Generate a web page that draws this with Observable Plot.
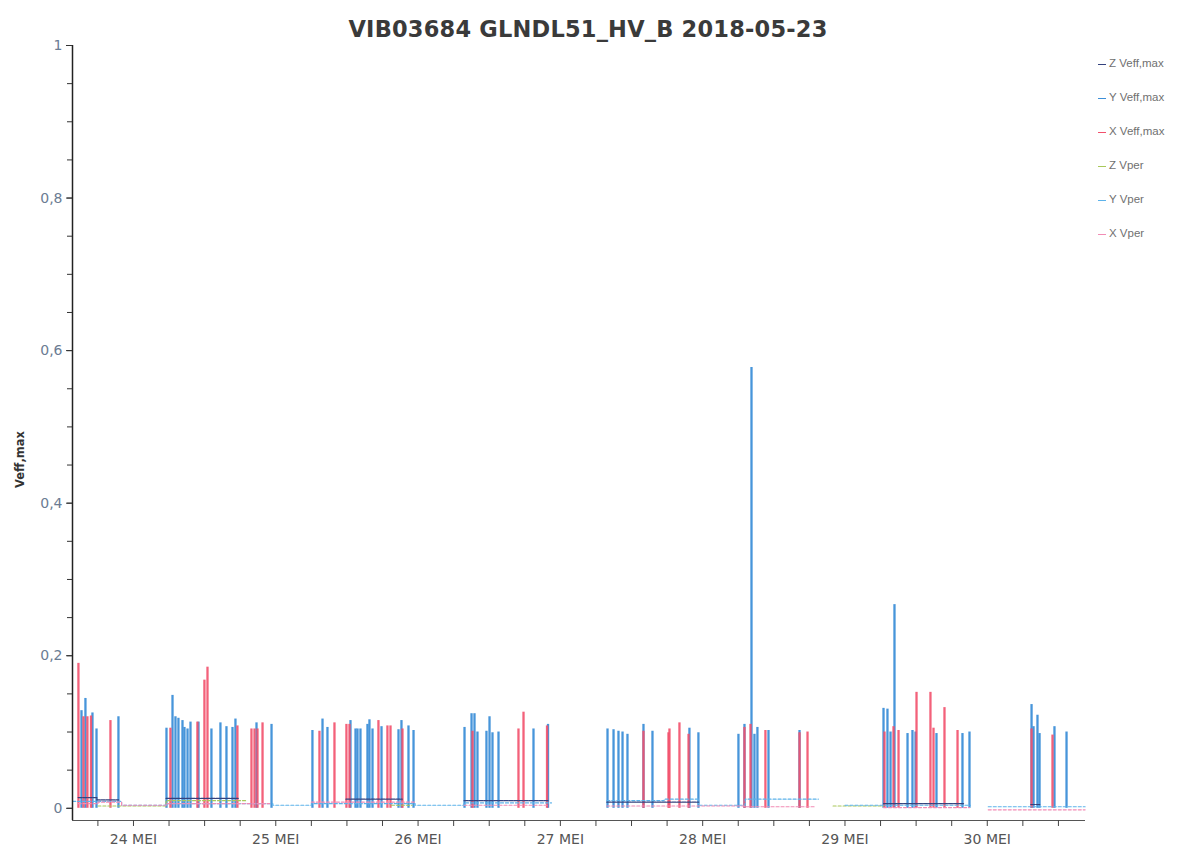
<!DOCTYPE html>
<html>
<head>
<meta charset="utf-8">
<script src="https://cdn.jsdelivr.net/npm/d3@7"></script>
<script src="https://cdn.jsdelivr.net/npm/@observablehq/plot@0.6"></script>
<style>
  html, body { margin: 0; padding: 0; background: #fff; }
  body { width: 1184px; height: 852px; position: relative; overflow: hidden; font-family: "DejaVu Sans", Verdana, sans-serif; }
  #title { position: absolute; z-index: 2; left: 0; top: 16px; width: 1176px; text-align: center; font-size: 22.5px; font-weight: bold; color: #3a3a3a; letter-spacing: 0.2px; }
  #chart { position: absolute; z-index: 1; left: 0; top: 38px; }
  #legend { position: absolute; z-index: 2; left: 1098px; top: 57px; font-size: 11.5px; color: #707070; font-family: "Liberation Sans", Arial, sans-serif; }
  #legend .item { height: 34px; display: flex; align-items: flex-start; }
  #legend .sw { width: 8px; height: 0; border-top: 1.5px solid; margin: 7px 3px 0 0; }
</style>
</head>
<body>
<div id="title"></div>
<div id="chart"></div>
<div id="legend"></div>
<script>
// ---------------- data ----------------
const chartTitle = "VIB03684 GLNDL51_HV_B 2018-05-23";
const yLabel = "Veff,max";
const seriesNames = ["Z Veff,max", "Y Veff,max", "X Veff,max", "Z Vper", "Y Vper", "X Vper"];
const seriesColors = ["#34427e", "#3d8fd8", "#f2506c", "#a9c85a", "#5cb2ea", "#f28cb5"];

const xDomain = ["2018-05-23 13:43", "2018-05-30 16:34"];
const dayTicks = ["2018-05-24 00:00", "2018-05-25 00:00", "2018-05-26 00:00", "2018-05-27 00:00", "2018-05-28 00:00", "2018-05-29 00:00", "2018-05-30 00:00"];
const dayLabels = ["24 MEI", "25 MEI", "26 MEI", "27 MEI", "28 MEI", "29 MEI", "30 MEI"];
const yDomain = [-0.016, 1];
const yTickValues = [0, 0.2, 0.4, 0.6, 0.8, 1];
const yTickLabels = ["0", "0,2", "0,4", "0,6", "0,8", "1"];

// Y Veff,max spikes (blue)
const yVeffTimes = [
  "2018-05-23 15:14", "2018-05-23 15:54", "2018-05-23 17:05", "2018-05-23 17:46", "2018-05-23 21:28",
  "2018-05-24 05:34", "2018-05-24 06:35", "2018-05-24 07:05", "2018-05-24 07:35", "2018-05-24 08:16", "2018-05-24 08:36",
  "2018-05-24 09:07", "2018-05-24 09:37", "2018-05-24 10:58", "2018-05-24 13:09", "2018-05-24 14:40", "2018-05-24 15:41",
  "2018-05-24 16:42", "2018-05-24 17:12", "2018-05-24 20:45", "2018-05-24 23:17",
  "2018-05-25 06:11", "2018-05-25 07:53", "2018-05-25 08:43", "2018-05-25 12:36", "2018-05-25 13:27", "2018-05-25 13:47",
  "2018-05-25 14:17", "2018-05-25 15:28", "2018-05-25 15:48", "2018-05-25 16:19", "2018-05-25 17:50", "2018-05-25 20:42",
  "2018-05-25 21:12", "2018-05-25 22:23", "2018-05-25 23:14",
  "2018-05-26 07:50", "2018-05-26 09:01", "2018-05-26 09:31", "2018-05-26 10:01", "2018-05-26 11:32", "2018-05-26 12:03",
  "2018-05-26 12:33", "2018-05-26 13:34", "2018-05-26 19:28", "2018-05-26 21:55",
  "2018-05-27 07:57", "2018-05-27 08:58", "2018-05-27 09:48", "2018-05-27 10:29", "2018-05-27 11:19", "2018-05-27 14:01",
  "2018-05-27 15:32", "2018-05-27 21:46", "2018-05-27 23:17",
  "2018-05-28 06:02", "2018-05-28 07:03", "2018-05-28 08:14", "2018-05-28 08:44", "2018-05-28 09:14", "2018-05-28 11:06",
  "2018-05-28 16:20",
  "2018-05-29 06:30", "2018-05-29 07:10", "2018-05-29 07:41", "2018-05-29 08:21", "2018-05-29 10:33", "2018-05-29 11:23",
  "2018-05-29 11:54", "2018-05-29 15:26", "2018-05-29 19:49", "2018-05-29 21:00",
  "2018-05-30 07:28", "2018-05-30 07:48", "2018-05-30 08:28", "2018-05-30 08:49", "2018-05-30 11:20", "2018-05-30 13:22"
];
const yVeffValues = [
  0.128, 0.144, 0.125, 0.104, 0.120,
  0.105, 0.148, 0.120, 0.118, 0.115, 0.106,
  0.104, 0.113, 0.113, 0.104, 0.112, 0.107,
  0.106, 0.117, 0.112, 0.110,
  0.102, 0.117, 0.106, 0.115, 0.104, 0.104,
  0.104, 0.110, 0.116, 0.104, 0.107, 0.103,
  0.115, 0.108, 0.102,
  0.106, 0.124, 0.124, 0.100, 0.101, 0.120,
  0.099, 0.100, 0.104, 0.110,
  0.104, 0.103, 0.101, 0.100, 0.097, 0.110,
  0.101, 0.105, 0.099,
  0.097, 0.110, 0.578, 0.097, 0.106, 0.102,
  0.102,
  0.131, 0.130, 0.100, 0.267, 0.098, 0.102,
  0.100, 0.098, 0.098, 0.100,
  0.136, 0.107, 0.122, 0.098, 0.107, 0.100
];

// X Veff,max spikes (red)
const xVeffTimes = [
  "2018-05-23 14:43", "2018-05-23 15:34", "2018-05-23 16:14", "2018-05-23 16:50", "2018-05-23 20:07",
  "2018-05-24 06:14", "2018-05-24 10:47", "2018-05-24 11:58", "2018-05-24 12:29", "2018-05-24 17:32", "2018-05-24 19:54",
  "2018-05-24 20:25", "2018-05-24 20:55", "2018-05-24 21:46",
  "2018-05-25 07:22", "2018-05-25 09:54", "2018-05-25 11:55", "2018-05-25 12:26", "2018-05-25 17:19", "2018-05-25 18:50",
  "2018-05-25 19:21", "2018-05-25 21:22",
  "2018-05-26 09:11", "2018-05-26 16:56", "2018-05-26 17:47", "2018-05-26 21:45",
  "2018-05-27 14:01", "2018-05-27 18:14", "2018-05-27 18:24", "2018-05-27 20:05", "2018-05-27 21:37",
  "2018-05-28 07:03", "2018-05-28 08:04", "2018-05-28 10:35", "2018-05-28 16:20", "2018-05-28 17:41",
  "2018-05-29 06:40", "2018-05-29 08:11", "2018-05-29 09:02", "2018-05-29 12:04", "2018-05-29 14:25", "2018-05-29 14:56",
  "2018-05-29 16:47", "2018-05-29 18:59",
  "2018-05-30 07:28", "2018-05-30 11:00"
];
const xVeffValues = [
  0.190, 0.120, 0.120, 0.121, 0.115,
  0.105, 0.113, 0.168, 0.185, 0.108, 0.104,
  0.104, 0.104, 0.112,
  0.101, 0.112, 0.110, 0.110, 0.115, 0.108,
  0.108, 0.104,
  0.101, 0.104, 0.126, 0.108,
  0.101, 0.099, 0.104, 0.112, 0.097,
  0.106, 0.110, 0.102, 0.099, 0.100,
  0.100, 0.107, 0.102, 0.152, 0.152, 0.105,
  0.132, 0.102,
  0.104, 0.096
];

// Z Veff,max (low step line)
const zVeffTimes = [
  "2018-05-23 14:40", "2018-05-23 17:50", "2018-05-23 21:30", "2018-05-23 21:31",
  "2018-05-24 05:30", "2018-05-24 17:40", "2018-05-24 17:41",
  "2018-05-25 11:50", "2018-05-25 21:20", "2018-05-25 21:21",
  "2018-05-26 07:45", "2018-05-26 22:00", "2018-05-26 22:01",
  "2018-05-27 07:50", "2018-05-27 23:20", "2018-05-27 23:21",
  "2018-05-29 06:30", "2018-05-29 20:00", "2018-05-29 20:01",
  "2018-05-30 07:20", "2018-05-30 09:00"
];
const zVeffValues = [
  0.014, 0.011, 0.011, NaN,
  0.013, 0.013, NaN,
  0.012, 0.012, NaN,
  0.010, 0.010, NaN,
  0.008, 0.008, NaN,
  0.006, 0.006, NaN,
  0.005, 0.005
];

// Z Vper (low dashed step line)
const zVperTimes = [
  "2018-05-23 18:00", "2018-05-24 05:30", "2018-05-24 19:00", "2018-05-24 19:01",
  "2018-05-25 19:30", "2018-05-25 23:00", "2018-05-25 23:01",
  "2018-05-28 22:00", "2018-05-29 06:30", "2018-05-29 06:31"
];
const zVperValues = [
  0.003, 0.010, 0.010, NaN,
  0.004, 0.004, NaN,
  0.003, 0.003, NaN
];

// Y Vper (low dashed step line)
const yVperTimes = [
  "2018-05-23 13:45", "2018-05-23 22:00", "2018-05-24 05:30", "2018-05-24 23:30", "2018-05-25 06:00", "2018-05-25 23:30",
  "2018-05-26 07:45", "2018-05-26 22:30", "2018-05-26 22:31",
  "2018-05-27 07:50", "2018-05-27 17:30", "2018-05-27 23:20", "2018-05-28 07:10", "2018-05-28 19:30", "2018-05-28 19:31",
  "2018-05-29 00:00", "2018-05-29 21:10", "2018-05-29 21:11",
  "2018-05-30 00:10", "2018-05-30 16:30"
];
const yVperValues = [
  0.009, 0.004, 0.006, 0.004, 0.006, 0.004,
  0.007, 0.007, NaN,
  0.010, 0.012, 0.004, 0.012, 0.012, NaN,
  0.004, 0.004, NaN,
  0.002, 0.002
];

// X Vper (low dashed step line)
const xVperTimes = [
  "2018-05-23 14:40", "2018-05-23 18:00", "2018-05-23 22:00", "2018-05-24 05:30", "2018-05-24 23:00", "2018-05-24 23:01",
  "2018-05-25 06:00", "2018-05-25 23:30", "2018-05-25 23:31",
  "2018-05-26 07:45", "2018-05-26 22:00", "2018-05-26 22:01",
  "2018-05-27 07:50", "2018-05-28 07:00", "2018-05-28 19:00", "2018-05-28 19:01",
  "2018-05-29 06:30", "2018-05-29 21:00", "2018-05-29 21:01",
  "2018-05-30 00:10", "2018-05-30 16:30"
];
const xVperValues = [
  0.006, 0.008, 0.004, 0.006, 0.006, NaN,
  0.008, 0.008, NaN,
  0.004, 0.004, NaN,
  0.003, 0.002, 0.002, NaN,
  0.001, 0.001, NaN,
  -0.002, -0.002
];

// ---------------- build ----------------
const parse = d3.utcParse("%Y-%m-%d %H:%M");
const zip = (ts, vs) => ts.map((t, i) => ({t: parse(t), v: vs[i]}));
const yVeff = zip(yVeffTimes, yVeffValues);
const xVeff = zip(xVeffTimes, xVeffValues);
const zVeff = zip(zVeffTimes, zVeffValues);
const zVper = zip(zVperTimes, zVperValues);
const yVper = zip(yVperTimes, yVperValues);
const xVper = zip(xVperTimes, xVperValues);
const xDom = xDomain.map(parse);
const dayDates = dayTicks.map(parse);
const sixHourTicks = d3.utcHour.every(6).range(xDom[0], xDom[1]);
const minorY = d3.range(0, 1.0001, 0.05);

document.getElementById("title").textContent = chartTitle;

const font = "DejaVu Sans, Verdana, sans-serif";
const chart = Plot.plot({
  width: 1184,
  height: 814,
  marginLeft: 72,
  marginRight: 99,
  marginTop: 7,
  marginBottom: 32,
  style: {fontFamily: font, background: "transparent"},
  x: {type: "utc", domain: xDom},
  y: {domain: yDomain},
  marks: [
    // vertical spikes
    Plot.ruleX(yVeff, {x: "t", y1: 0, y2: "v", stroke: seriesColors[1], strokeWidth: 2.3, strokeOpacity: 0.95}),
    Plot.ruleX(xVeff, {x: "t", y1: 0, y2: "v", stroke: seriesColors[2], strokeWidth: 2.3, strokeOpacity: 0.9}),
    // low step lines
    Plot.line(zVper, {x: "t", y: "v", curve: "step-after", stroke: seriesColors[3], strokeWidth: 1.2, strokeDasharray: "3,2"}),
    Plot.line(yVper, {x: "t", y: "v", curve: "step-after", stroke: seriesColors[4], strokeWidth: 1.2, strokeDasharray: "3,2"}),
    Plot.line(xVper, {x: "t", y: "v", curve: "step-after", stroke: seriesColors[5], strokeWidth: 1.2, strokeDasharray: "3,2"}),
    Plot.line(zVeff, {x: "t", y: "v", curve: "step-after", stroke: seriesColors[0], strokeWidth: 1.2, strokeDasharray: "4,1"}),
    // axes
    Plot.ruleY([yDomain[0]], {stroke: "#555", strokeWidth: 1.2}),
    Plot.ruleX([xDom[0]], {stroke: "#222", strokeWidth: 1.5}),
    Plot.axisY(minorY, {tickSize: 5, tickFormat: () => "", stroke: "#333", label: null}),
    Plot.axisY(yTickValues, {tickSize: 6, tickPadding: 4, tickFormat: (d) => yTickLabels[yTickValues.indexOf(d)], fill: "#6b7c93", fontSize: 14, stroke: "#333", label: null}),
    Plot.axisX(sixHourTicks, {tickSize: 6, tickFormat: () => "", stroke: "#444", label: null}),
    Plot.axisX(dayDates, {tickSize: 0, tickPadding: 14, tickFormat: (d) => dayLabels[dayDates.findIndex(e => +e === +d)], fill: "#555", fontSize: 14, label: null}),
    Plot.text([yLabel], {frameAnchor: "left", rotate: -90, dx: -52, dy: 55, fontWeight: "bold", fontSize: 11.5, fill: "#333"})
  ]
});
document.getElementById("chart").appendChild(chart);

const legend = document.getElementById("legend");
seriesNames.forEach((name, i) => {
  const item = document.createElement("div");
  item.className = "item";
  const sw = document.createElement("span");
  sw.className = "sw";
  sw.style.borderTopColor = seriesColors[i];
  const tx = document.createElement("span");
  tx.textContent = name;
  item.appendChild(sw);
  item.appendChild(tx);
  legend.appendChild(item);
});
</script>
</body>
</html>
